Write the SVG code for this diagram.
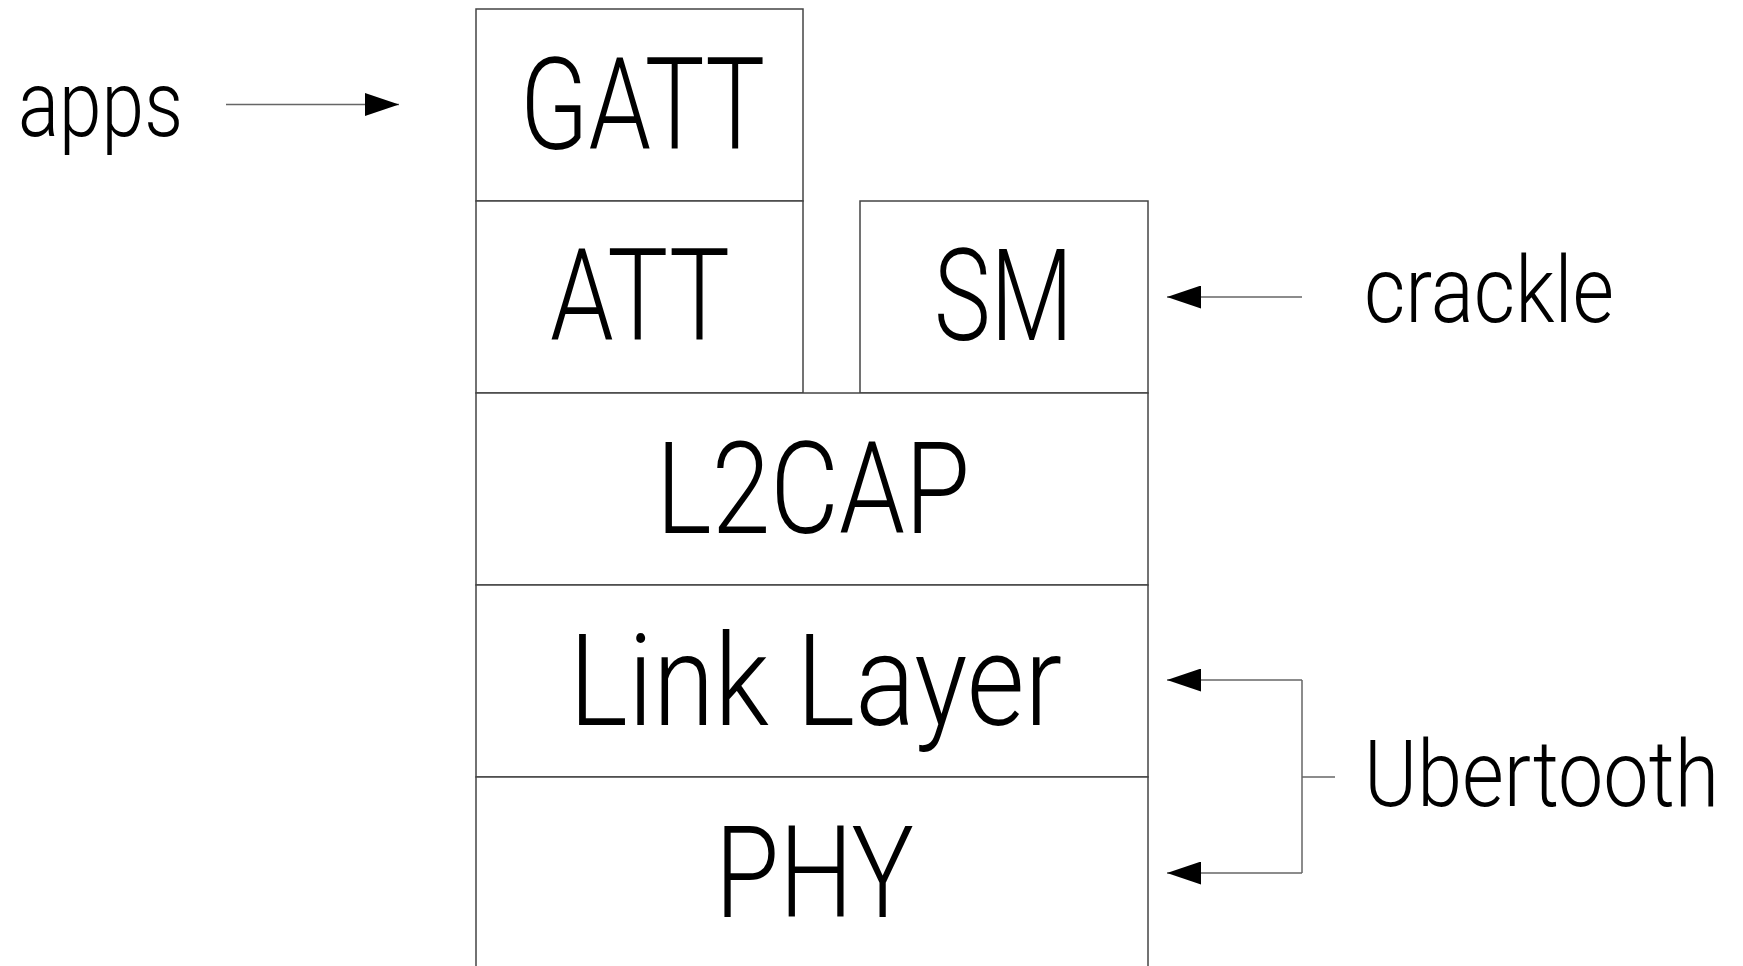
<svg xmlns="http://www.w3.org/2000/svg" width="1743" height="966" viewBox="0 0 1743 966">
<style>
.box{fill:#fff;stroke:#444;stroke-width:1.5}
.big{font-family:Roboto,"Liberation Sans",sans-serif;font-weight:350;font-size:128px;fill:#000}
.side{font-family:Roboto,"Liberation Sans",sans-serif;font-weight:300;font-size:92px;fill:#000}
.conn{fill:none;stroke:#666;stroke-width:1.5}
</style>
<defs>
<marker id="ah" viewBox="0 0 34 23" refX="34" refY="11.5" markerWidth="34" markerHeight="23" markerUnits="userSpaceOnUse" orient="auto">
<path d="M0,0 L34,11.5 L0,23 Z" fill="#000"/>
</marker>
</defs>
<rect width="1743" height="966" fill="#fff"/>
<g id="GATT"><rect class="box" x="476" y="9" width="327" height="192"/><text class="big" x="520" y="149" textLength="245" lengthAdjust="spacingAndGlyphs">GATT</text></g>
<g id="ATT"><rect class="box" x="476" y="201" width="327" height="192"/><text class="big" x="550" y="340" textLength="180" lengthAdjust="spacingAndGlyphs">ATT</text></g>
<g id="SM"><rect class="box" x="860" y="201" width="288" height="192"/><text class="big" x="934" y="340" textLength="139" lengthAdjust="spacingAndGlyphs">SM</text></g>
<g id="L2CAP"><rect class="box" x="476" y="393" width="672" height="192"/><text class="big" x="656" y="533" textLength="314" lengthAdjust="spacingAndGlyphs">L2CAP</text></g>
<g id="LinkLayer"><rect class="box" x="476" y="585" width="672" height="192"/><text class="big" x="569" y="725" textLength="493" lengthAdjust="spacingAndGlyphs">Link Layer</text></g>
<g id="PHY"><rect class="box" x="476" y="777" width="672" height="192"/><text class="big" x="715" y="917" textLength="199" lengthAdjust="spacingAndGlyphs">PHY</text></g>
<g id="apps"><text class="side" x="18" y="136" textLength="165" lengthAdjust="spacingAndGlyphs">apps</text></g>
<g id="crackle"><text class="side" x="1364" y="322" textLength="250" lengthAdjust="spacingAndGlyphs">crackle</text></g>
<g id="Ubertooth"><text class="side" x="1364" y="806" textLength="355" lengthAdjust="spacingAndGlyphs">Ubertooth</text></g>
<g id="connectors">
<path class="conn" d="M226,104.5 H399" marker-end="url(#ah)"/>
<path class="conn" d="M1302,297 H1167" marker-end="url(#ah)"/>
<path class="conn" d="M1302,680 V873"/>
<path class="conn" d="M1302,680 H1167" marker-end="url(#ah)"/>
<path class="conn" d="M1302,873 H1167" marker-end="url(#ah)"/>
<path class="conn" d="M1302,777 H1335"/>
</g>
</svg>
